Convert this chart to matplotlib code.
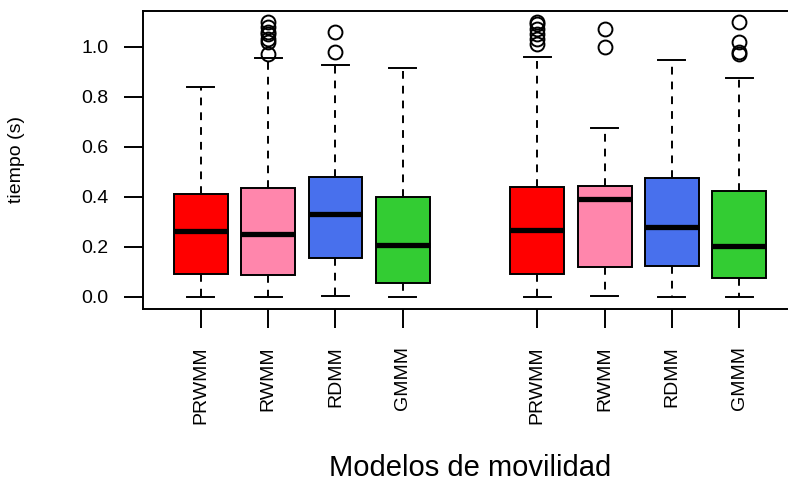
import matplotlib
matplotlib.use("Agg")
import matplotlib.pyplot as plt

plt.rcParams['font.family'] = ['Liberation Sans', 'DejaVu Sans']

# ── Datos ─────────────────────────────────────────────────────────────────────
models    = ["PRWMM", "RWMM", "RDMM", "GMMM", "PRWMM", "RWMM", "RDMM", "GMMM"]
positions = [1, 2, 3, 4, 6, 7, 8, 9]
colors    = ["#FF0000", "#FF86AC", "#4870ED", "#33CC33"] * 2

whislo = [0.000, 0.000, 0.005, 0.000, 0.000, 0.004, 0.000, 0.000]
q1     = [0.090, 0.086, 0.155, 0.056, 0.093, 0.119, 0.124, 0.076]
med    = [0.264, 0.253, 0.331, 0.207, 0.267, 0.391, 0.279, 0.205]
q3     = [0.412, 0.437, 0.479, 0.401, 0.441, 0.444, 0.476, 0.424]
whishi = [0.838, 0.955, 0.927, 0.916, 0.959, 0.677, 0.948, 0.877]
fliers = [
    [],
    [0.97, 1.02, 1.03, 1.05, 1.06, 1.08, 1.10],
    [0.98, 1.06],
    [],
    [1.01, 1.03, 1.05, 1.07, 1.09, 1.10],
    [1.00, 1.07],
    [],
    [0.97, 0.98, 1.02, 1.10],
]

stats = []
for i in range(len(models)):
    stats.append({
        "label":  models[i],
        "whislo": whislo[i],
        "q1":     q1[i],
        "med":    med[i],
        "q3":     q3[i],
        "whishi": whishi[i],
        "fliers": fliers[i],
    })

# ── Figura ────────────────────────────────────────────────────────────────────
fig = plt.figure(figsize=(7.88, 4.86), dpi=100)
ax = fig.add_axes([0.1815, 0.3642, 0.830, 0.6132])

lw = 1.4
bp = ax.bxp(stats, positions=positions, widths=0.8, patch_artist=True,
            boxprops=dict(linewidth=lw, edgecolor="black"),
            medianprops=dict(color="black", linewidth=3.8, solid_capstyle="butt"),
            whiskerprops=dict(color="black", linewidth=lw, linestyle=(0, (4, 3.6))),
            capprops=dict(color="black", linewidth=lw),
            flierprops=dict(marker="o", markerfacecolor="none", markeredgecolor="black",
                            markersize=10, markeredgewidth=1.4))

for patch, c in zip(bp["boxes"], colors):
    patch.set_facecolor(c)

ax.set_xlim(0.14, 9.86)
ax.set_ylim(-0.048, 1.144)
ax.set_yticks([0.0, 0.2, 0.4, 0.6, 0.8, 1.0])
ax.set_yticklabels(["0.0", "0.2", "0.4", "0.6", "0.8", "1.0"])
ax.set_xticks(positions)
ax.set_xticklabels(models, rotation=90)

ax.tick_params(axis="both", length=14, width=lw, labelsize=14, direction="out")
ax.tick_params(axis="y", pad=11)
ax.tick_params(axis="x", pad=13)
for s in ax.spines.values():
    s.set_linewidth(lw)

ax.set_ylabel("tiempo (s)", fontsize=14, labelpad=40)
ax.set_xlabel("Modelos de movilidad", fontsize=21)
ax.xaxis.set_label_coords(0.5, -0.485)

fig.savefig("out.png", dpi=100)
